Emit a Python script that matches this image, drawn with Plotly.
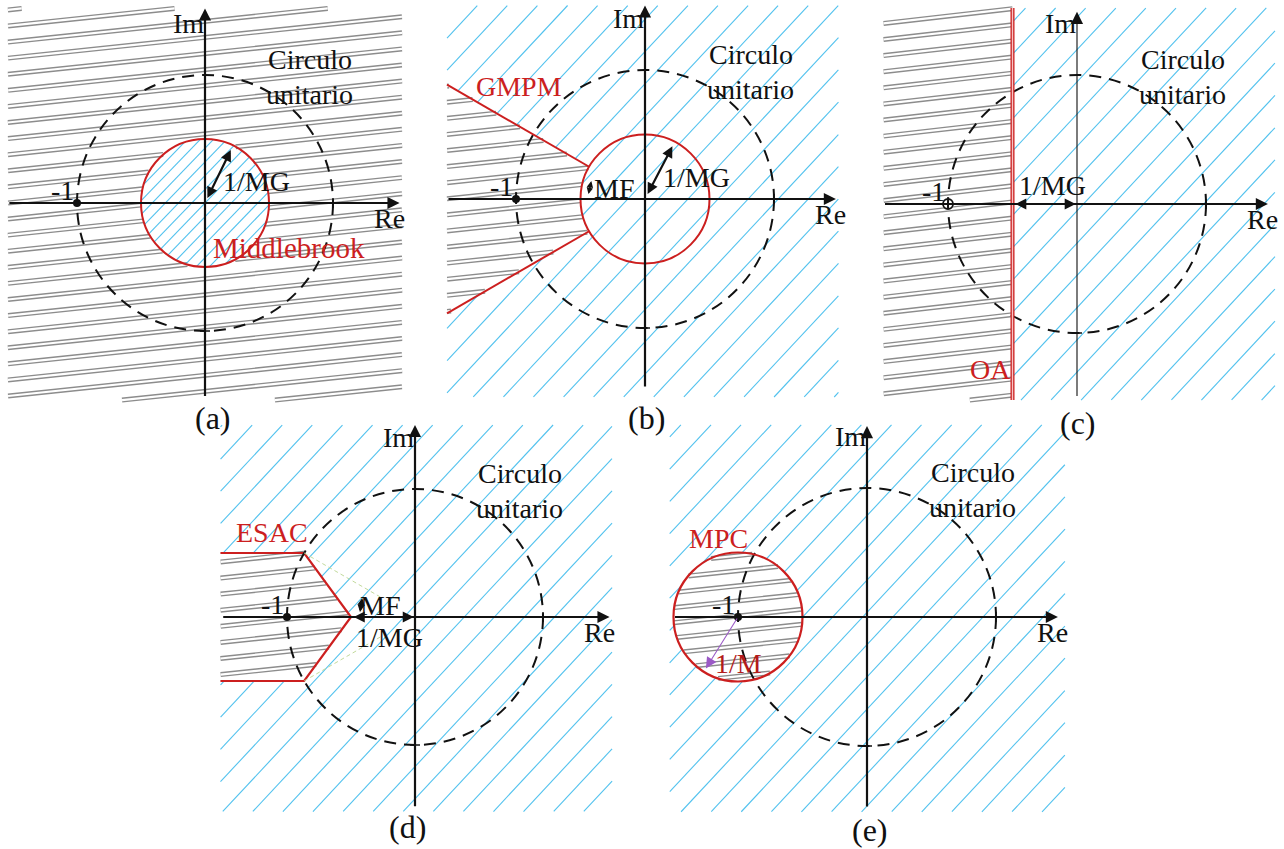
import numpy as np
import plotly.graph_objects as go

W, H = 1284, 849

# ---------------- values drawn in the five Nyquist-plane panels ----------------
PANEL_LABELS = ["(a)", "(b)", "(c)", "(d)", "(e)"]
CRITERIA = ["Middlebrook", "GMPM", "OA", "ESAC", "MPC"]
AXIS_LABELS = ["Re", "Im"]
UNIT_CIRCLE_TEXT = ["Circulo", "unitario"]
CRITICAL_POINT = [-1.0, 0.0]      # -1 + j0
UNIT_RADIUS = 1.0
INV_GAIN_MARGIN = 0.5             # 1/MG
PHASE_MARGIN_DEG = 30.0           # MF
INV_PEAK = 0.5                    # 1/M, radius of the MPC circle
MG_ARROW_ANGLE_DEG = 64.0         # direction of the 1/MG radius arrow
M_ARROW_ANGLE_DEG = 238.0         # direction of the 1/M radius arrow

# ---------------- page layout (pixel origin, pixels per unit, hatched frame) ----------------
PANELS = {
    "a": dict(origin=(205, 203), scale=128, frame=(-1.54, 1.54, -1.54, 1.52),
              re=(-1.54, 1.52), im=(-1.52, 1.52)),
    "b": dict(origin=(645, 199), scale=129, frame=(-1.535, 1.50, -1.535, 1.50),
              re=(-1.535, 1.48), im=(-1.465, 1.50)),
    "c": dict(origin=(1077, 204), scale=129, frame=(-1.50, 1.535, -1.52, 1.52),
              re=(-1.50, 1.48), im=(-1.50, 1.49)),
    "d": dict(origin=(415, 617), scale=128, frame=(-1.52, 1.54, -1.52, 1.50),
              re=(-1.51, 1.52), im=(-1.49, 1.50)),
    "e": dict(origin=(867, 617), scale=129, frame=(-1.53, 1.535, -1.51, 1.49),
              re=(-1.50, 1.48), im=(-1.48, 1.48)),
}
KEYS = ["a", "b", "c", "d", "e"]

FONT = "Liberation Serif"
BLACK = "#111111"
RED = "#cc1f1f"
BLUE = "#52c2ee"
GRAY = "#8c8c8c"
PURPLE = "#9b59c6"
TEXT_SIZE = 28
CAPTION_SIZE = 32

fig = go.Figure()
layout = dict(width=W, height=H, margin=dict(l=0, r=0, t=0, b=0),
              paper_bgcolor="white", plot_bgcolor="rgba(0,0,0,0)",
              showlegend=False, autosize=False)


def axis_ids(i):
    return ("x" if i == 0 else f"x{i+1}"), ("y" if i == 0 else f"y{i+1}")


for i, k in enumerate(KEYS):
    p = PANELS[k]
    ox, oy = p["origin"]
    s = p["scale"]
    xn = "xaxis" if i == 0 else f"xaxis{i+1}"
    yn = "yaxis" if i == 0 else f"yaxis{i+1}"
    xa, ya = axis_ids(i)
    layout[xn] = dict(domain=[0, 1], range=[-ox / s, (W - ox) / s], visible=False,
                      anchor=ya, fixedrange=True)
    layout[yn] = dict(domain=[0, 1], range=[(oy - H) / s, oy / s], visible=False,
                      anchor=xa, fixedrange=True)


def hatch(inside, frame, angle_deg, spacing, anchor, step=0.002):
    """Parallel hatch lines clipped to the frame and to a region predicate."""
    x0, x1, y0, y1 = frame
    a = np.radians(angle_deg)
    d = np.array([np.cos(a), np.sin(a)])
    n = np.array([-np.sin(a), np.cos(a)])
    corners = np.array([[x0, y0], [x0, y1], [x1, y0], [x1, y1]])
    offs = corners @ n
    base = np.asarray(anchor) @ n
    kmin = int(np.floor((offs.min() - base) / spacing)) - 1
    kmax = int(np.ceil((offs.max() - base) / spacing)) + 1
    L = np.hypot(x1 - x0, y1 - y0) + 1
    t = np.arange(-L, L, step)
    xs, ys = [], []
    for kk in range(kmin, kmax + 1):
        c = base + kk * spacing
        px = c * n[0] + t * d[0]
        py = c * n[1] + t * d[1]
        m = (px >= x0) & (px <= x1) & (py >= y0) & (py <= y1) & inside(px, py)
        if not m.any():
            continue
        dm = np.diff(m.astype(int))
        starts = np.where(dm == 1)[0] + 1
        ends = np.where(dm == -1)[0]
        if m[0]:
            starts = np.r_[0, starts]
        if m[-1]:
            ends = np.r_[ends, len(m) - 1]
        for s0, e0 in zip(starts, ends):
            if e0 - s0 < 3:
                continue
            xs += [px[s0], px[e0], None]
            ys += [py[s0], py[e0], None]
    return xs, ys


def add_gray(i, inside, frame, spacing_px, anchor, angle=6.0):
    xa, ya = axis_ids(i)
    s = PANELS[KEYS[i]]["scale"]
    xs, ys = hatch(inside, frame, angle, spacing_px / s, anchor)
    fig.add_trace(go.Scatter(x=xs, y=ys, mode="lines", xaxis=xa, yaxis=ya,
                             line=dict(color=GRAY, width=5.0), hoverinfo="skip"))
    fig.add_trace(go.Scatter(x=xs, y=ys, mode="lines", xaxis=xa, yaxis=ya,
                             line=dict(color="white", width=2.2), hoverinfo="skip"))


def add_blue(i, inside, frame, spacing_px, anchor, angle=47.0):
    xa, ya = axis_ids(i)
    s = PANELS[KEYS[i]]["scale"]
    xs, ys = hatch(inside, frame, angle, spacing_px / s, anchor)
    fig.add_trace(go.Scatter(x=xs, y=ys, mode="lines", xaxis=xa, yaxis=ya,
                             line=dict(color=BLUE, width=1.1), hoverinfo="skip"))


shapes = []
annotations = []

r_mg = INV_GAIN_MARGIN
pm = np.radians(PHASE_MARGIN_DEG)
cx, cy = CRITICAL_POINT

# ---------------- hatched regions ----------------
# (a) Middlebrook: forbidden everywhere outside the 1/MG circle
fa = PANELS["a"]["frame"]
add_gray(0, lambda x, y: np.hypot(x, y) > r_mg, fa, 16.0, (fa[0], 1.383))
add_blue(0, lambda x, y: np.hypot(x, y) < r_mg, fa, 9.5, (0.0, 0.0), angle=46.0)

# (b) GMPM: sector around the negative real axis beyond the 1/MG circle
fb = PANELS["b"]["frame"]


def gmpm_zone(x, y):
    ang = np.abs(np.arctan2(y, -x))
    return (x < 0) & (ang <= pm) & (np.hypot(x, y) > r_mg)


add_gray(1, gmpm_zone, fb, 16.0, (fb[0], 0.75))
add_blue(1, lambda x, y: ~gmpm_zone(x, y), fb, 22.0, (0.1, 0.0))

# (c) OA: half plane left of -1/MG
fc = PANELS["c"]["frame"]
add_gray(2, lambda x, y: x < -r_mg, fc, 16.0, (fc[0], 1.40), angle=6.5)
add_blue(2, lambda x, y: x > -r_mg, fc, 22.0, (0.05, 0.0))

# (d) ESAC: region bounded by the phase-margin corners and -1/MG
fd = PANELS["d"]["frame"]
corner = np.array([np.cos(np.pi - pm), np.sin(np.pi - pm)]) * UNIT_RADIUS
slope_d = (corner[0] + r_mg) / corner[1]   # x offset per unit |Im|


def esac_zone(x, y):
    return (np.abs(y) <= corner[1]) & (x <= -r_mg + slope_d * np.abs(y))


add_gray(3, esac_zone, fd, 16.0, (fd[0], 0.43))
add_blue(3, lambda x, y: ~esac_zone(x, y), fd, 22.0, (0.15, 0.0))

# (e) MPC: circle of radius 1/M around -1
fe = PANELS["e"]["frame"]


def mpc_zone(x, y):
    return np.hypot(x - cx, y - cy) < INV_PEAK


add_gray(4, mpc_zone, fe, 15.0, (fe[0], 0.42))
add_blue(4, lambda x, y: ~mpc_zone(x, y), fe, 22.0, (0.2, 0.0))


def make_label(xa, ya):
    def label(text, x, y, color=BLACK, size=TEXT_SIZE):
        annotations.append(dict(text=text, x=x, y=y, xref=xa, yref=ya, showarrow=False,
                                xanchor="center", yanchor="middle",
                                font=dict(family=FONT, size=size, color=color)))
    return label


# ---------------- common elements of every panel ----------------
for i, k in enumerate(KEYS):
    p = PANELS[k]
    xa, ya = axis_ids(i)
    s = p["scale"]
    # dashed unit circle
    shapes.append(dict(type="circle", xref=xa, yref=ya, x0=-UNIT_RADIUS, x1=UNIT_RADIUS,
                       y0=-UNIT_RADIUS, y1=UNIT_RADIUS,
                       line=dict(color=BLACK, width=2, dash="12px,8px")))
    # ticks at +1 and -j
    tk = 5.0 / s
    shapes.append(dict(type="line", xref=xa, yref=ya, x0=UNIT_RADIUS, x1=UNIT_RADIUS,
                       y0=-tk, y1=tk, line=dict(color=BLACK, width=1.5)))
    shapes.append(dict(type="line", xref=xa, yref=ya, x0=-tk, x1=tk,
                       y0=-UNIT_RADIUS, y1=-UNIT_RADIUS, line=dict(color=BLACK, width=1.5)))
    # axes with arrow heads
    annotations.append(dict(x=p["re"][1], y=0, ax=p["re"][0], ay=0, xref=xa, yref=ya,
                            axref=xa, ayref=ya, text="", showarrow=True, arrowhead=2,
                            arrowsize=1.1, arrowwidth=2.2, arrowcolor=BLACK))
    annotations.append(dict(x=0, y=p["im"][1], ax=0, ay=p["im"][0], xref=xa, yref=ya,
                            axref=xa, ayref=ya, text="", showarrow=True, arrowhead=2,
                            arrowsize=1.1 if k != "c" else 2.2,
                            arrowwidth=2.2 if k != "c" else 1.1, arrowcolor=BLACK))
    # critical point
    if k == "c":
        fig.add_trace(go.Scatter(x=[cx], y=[cy], mode="markers", xaxis=xa, yaxis=ya,
                                 marker=dict(symbol="circle-dot", size=10, color="white",
                                             line=dict(color=BLACK, width=1.8)),
                                 hoverinfo="skip"))
    else:
        fig.add_trace(go.Scatter(x=[cx], y=[cy], mode="markers", xaxis=xa, yaxis=ya,
                                 marker=dict(size=8, color=BLACK), hoverinfo="skip"))

    label = make_label(xa, ya)
    label(AXIS_LABELS[1], -0.13, 1.40)
    label(AXIS_LABELS[0], 1.44, -0.12)
    label(UNIT_CIRCLE_TEXT[0], 0.82, 1.12)
    label(UNIT_CIRCLE_TEXT[1], 0.82, 0.85)
    label("-1", -1.11, 0.10)
    p["label"] = label

la, lb, lc, ld, le = (PANELS[k]["label"] for k in KEYS)

# panel captions
la(PANEL_LABELS[0], 0.06, -1.68, size=CAPTION_SIZE)
lb(PANEL_LABELS[1], 0.01, -1.70, size=CAPTION_SIZE)
lc(PANEL_LABELS[2], 0.01, -1.70, size=CAPTION_SIZE)
ld(PANEL_LABELS[3], -0.055, -1.64, size=CAPTION_SIZE)
le(PANEL_LABELS[4], 0.02, -1.65, size=CAPTION_SIZE)


def arrow(i, tail, head, color=BLACK, width=2.2, size=1.0, both=True):
    xa, ya = axis_ids(i)
    d = dict(x=head[0], y=head[1], ax=tail[0], ay=tail[1], xref=xa, yref=ya,
             axref=xa, ayref=ya, text="", showarrow=True, arrowhead=2, arrowsize=size,
             arrowwidth=width, arrowcolor=color)
    if both:
        d.update(arrowside="end+start", startarrowhead=2, startarrowsize=size)
    annotations.append(d)


def polar(r, deg, c=(0.0, 0.0)):
    return (c[0] + r * np.cos(np.radians(deg)), c[1] + r * np.sin(np.radians(deg)))


# ---------------- (a) Middlebrook ----------------
shapes.append(dict(type="circle", xref="x", yref="y", x0=-r_mg, x1=r_mg, y0=-r_mg, y1=r_mg,
                   line=dict(color=RED, width=2)))
arrow(0, polar(0.03, MG_ARROW_ANGLE_DEG), polar(r_mg - 0.04, MG_ARROW_ANGLE_DEG))
la("1/MG", 0.40, 0.165)
la(CRITERIA[0], 0.66, -0.35, color=RED, size=29)

# ---------------- (b) GMPM ----------------
shapes.append(dict(type="circle", xref="x2", yref="y2", x0=-r_mg, x1=r_mg, y0=-r_mg, y1=r_mg,
                   line=dict(color=RED, width=2)))
for sgn in (1, -1):
    ang = np.pi - sgn * pm
    r_out = fb[0] / np.cos(ang)
    shapes.append(dict(type="line", xref="x2", yref="y2",
                       x0=r_mg * np.cos(ang), y0=r_mg * np.sin(ang),
                       x1=r_out * np.cos(ang), y1=r_out * np.sin(ang),
                       line=dict(color=RED, width=2)))
arrow(1, polar(0.03, MG_ARROW_ANGLE_DEG - 1.5), polar(r_mg - 0.04, MG_ARROW_ANGLE_DEG - 1.5))
arrow(1, polar(0.44, 160), polar(0.44, 175), width=1.6, size=0.8)
lb("MF", -0.24, 0.08)
lb("1/MG", 0.40, 0.165)
lb(CRITERIA[1], -0.98, 0.87, color=RED)

# ---------------- (c) OA ----------------
fc_y0, fc_y1 = fc[2], fc[3]
shapes.append(dict(type="line", xref="x3", yref="y3", x0=-r_mg, x1=-r_mg, y0=fc_y0, y1=fc_y1,
                   line=dict(color=RED, width=4)))
shapes.append(dict(type="line", xref="x3", yref="y3", x0=-r_mg, x1=-r_mg, y0=fc_y0, y1=fc_y1,
                   line=dict(color="#f6c4c4", width=1.4)))
arrow(2, (-r_mg + 0.01, 0.0), (-0.01, 0.0))
lc("1/MG", -0.19, 0.14)
lc(CRITERIA[2], -0.67, -1.28, color=RED)

# ---------------- (d) ESAC ----------------
esac_x = [fd[0], corner[0], -r_mg, corner[0], fd[0]]
esac_y = [corner[1], corner[1], 0.0, -corner[1], -corner[1]]
fig.add_trace(go.Scatter(x=esac_x, y=esac_y, mode="lines", xaxis="x4", yaxis="y4",
                         line=dict(color=RED, width=2.2), hoverinfo="skip"))
for sgn in (1, -1):
    a0 = np.degrees(np.pi - sgn * pm)
    p0, p1 = polar(1.0, a0), polar(0.3, a0)
    shapes.append(dict(type="line", xref="x4", yref="y4", x0=p0[0], y0=p0[1], x1=p1[0],
                       y1=p1[1], line=dict(color="#c2da9c", width=1, dash="4px,3px")))
arrow(3, (-r_mg + 0.01, 0.0), (-0.01, 0.0))
arrow(3, (-0.41, 0.16), (-0.43, 0.04), width=1.8, size=0.8)
ld("MF", -0.27, 0.09)
ld("1/MG", -0.20, -0.16)
ld(CRITERIA[3], -1.12, 0.66, color=RED)

# ---------------- (e) MPC ----------------
shapes.append(dict(type="circle", xref="x5", yref="y5", x0=cx - INV_PEAK, x1=cx + INV_PEAK,
                   y0=cy - INV_PEAK, y1=cy + INV_PEAK, line=dict(color=RED, width=2.2)))
arrow(4, (cx, cy), polar(INV_PEAK - 0.03, M_ARROW_ANGLE_DEG, (cx, cy)), color=PURPLE,
      width=1.1, size=2.0, both=False)
le("1/M", -1.0, -0.36, color="#b31b1b")
le(CRITERIA[4], -1.15, 0.61, color=RED)

layout["shapes"] = shapes
layout["annotations"] = annotations
fig.update_layout(**layout)
fig.write_html("out.html")
